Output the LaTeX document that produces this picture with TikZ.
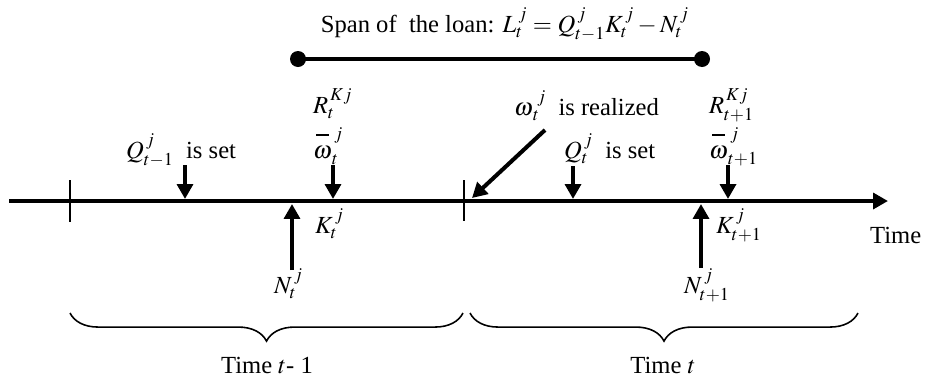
\documentclass[tikz,border=0pt]{standalone}
\usepackage{amsmath}
\usepackage{mathptmx}
\usepackage{fontspec}
\setmainfont{Liberation Serif}
\usetikzlibrary{arrows.meta,decorations.pathreplacing}
\newcommand{\wbar}{\overset{\rule[3pt]{0.5em}{0.7pt}}{\omega}}
\begin{document}
\begin{tikzpicture}[x=0.02cm, y=-0.02cm, >={Triangle[length=8.5pt,width=9pt]}, font=\fontsize{14}{16}\selectfont, inner sep=1pt]
    \useasboundingbox (0,0) rectangle (928,383);

    % span of the loan
    \node (span) [anchor=base] at (505,32) {Span of \ the loan: $L_t^{\,j} = Q_{t-1}^{\,j}K_t^{\,j} - N_t^{\,j}$};
    \coordinate (s1) at (298,59);
    \coordinate (s2) at (702,59);
    \draw[line width=2.3pt] (s1) -- (s2);
    \fill (s1) circle[radius=0.16cm] (s2) circle[radius=0.16cm];

    % time axis
    \coordinate (a0) at (9,201);
    \coordinate (a1) at (888,201);
    \draw[->, line width=2.3pt] (a0) -- (a1);
    \draw[line width=0.8pt] (70,180) -- (70,222);
    \draw[line width=0.8pt] (464,180) -- (464,221);
    \node (time) [anchor=base west] at (868,243) {Time};

    % period t-1
    \node (q1) [anchor=base west] at (124,158) {$Q_{t-1}^{\,j}$ \ is set};
    \node (r1) [anchor=base west] at (311,113) {$R_t^{\,Kj}$};
    \node (w1) [anchor=base west] at (311,158) {$\wbar_t^{\,j}$};
    \node (k1) [anchor=base west] at (313,233) {$K_t^{\,j}$};
    \node (n1) [anchor=base west] at (272,293) {$N_t^{\,j}$};
    \coordinate (q1a) at (185,165);
    \coordinate (q1b) at (185,199);
    \coordinate (w1a) at (333,165);
    \coordinate (w1b) at (333,199);
    \coordinate (n1a) at (292,270);
    \coordinate (n1b) at (292,204);
    \draw[->, line width=2.3pt] (q1a) -- (q1b);
    \draw[->, line width=2.3pt] (w1a) -- (w1b);
    \draw[->, line width=2.3pt] (n1a) -- (n1b);

    % period t
    \node (wr) [anchor=base west] at (512,115) {${\omega\vphantom{Q}}_t^{\;j}$ \ is realized};
    \node (q2) [anchor=base west] at (562,158) {$Q_t^{\,j}$ \ is set};
    \node (r2) [anchor=base west] at (707,113) {$R_{t+1}^{\,Kj}$};
    \node (w2) [anchor=base west] at (707,158) {$\wbar_{t+1}^{\,j}$};
    \node (k2) [anchor=base west] at (714,233) {$K_{t+1}^{\,j}$};
    \node (n2) [anchor=base west] at (682,293) {$N_{t+1}^{\,j}$};
    \coordinate (wra) at (545,130);
    \coordinate (wrb) at (472,198);
    \coordinate (q2a) at (573,166);
    \coordinate (q2b) at (573,199);
    \coordinate (w2a) at (728,165);
    \coordinate (w2b) at (728,199);
    \coordinate (n2a) at (701,268);
    \coordinate (n2b) at (701,204);
    \draw[->, line width=2.3pt] (wra) -- (wrb);
    \draw[->, line width=2.3pt] (q2a) -- (q2b);
    \draw[->, line width=2.3pt] (w2a) -- (w2b);
    \draw[->, line width=2.3pt] (n2a) -- (n2b);

    % periods
    \draw[line width=0.9pt, decorate, decoration={brace, mirror, amplitude=16pt}] (70,313) -- (463,313);
    \draw[line width=0.9pt, decorate, decoration={brace, mirror, amplitude=16pt}] (470,313) -- (858,313);
    \node (p1) [anchor=base] at (267,373) {Time $t$- 1};
    \node (p2) [anchor=base] at (663,373) {Time $t$};
\end{tikzpicture}
\end{document}
